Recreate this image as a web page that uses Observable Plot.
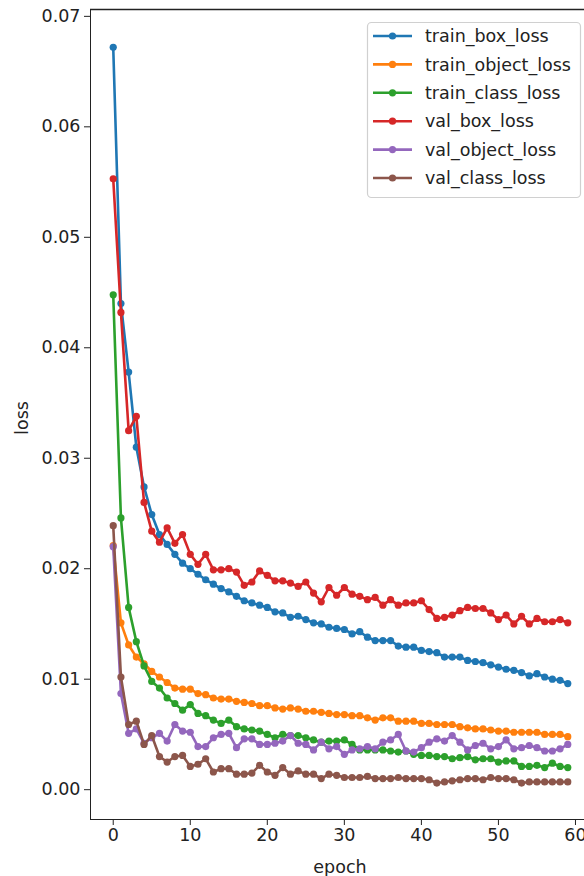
<!DOCTYPE html>
<html><head><meta charset="utf-8">
<script src="https://cdn.jsdelivr.net/npm/d3@7"></script>
<script src="https://cdn.jsdelivr.net/npm/@observablehq/plot@0.6"></script>
<style>body{margin:0;background:#fff} svg{display:block}</style>
</head><body><div id="chart"></div>
<script>
const seriesNames = ["train_box_loss","train_object_loss","train_class_loss","val_box_loss","val_object_loss","val_class_loss"];
const seriesColors = ["#1f77b4","#ff7f0e","#2ca02c","#d62728","#9467bd","#8c564b"];
const xTicks = [0,10,20,30,40,50,60];
const yTicks = [0,0.01,0.02,0.03,0.04,0.05,0.06,0.07];

const trainBox = [
0.0672,0.0440,0.0378,0.0310,0.0274,0.0249,0.0231,0.0222,0.0213,0.0205,
0.0200,0.0195,0.0190,0.0186,0.0182,0.0179,0.0175,0.0171,0.0169,0.0167,
0.0165,0.0161,0.0160,0.0156,0.0157,0.0154,0.0151,0.0150,0.0147,0.0146,
0.0145,0.0141,0.0143,0.0138,0.0135,0.0135,0.0135,0.0130,0.0129,0.0129,
0.0126,0.0125,0.0124,0.0120,0.0120,0.0120,0.0117,0.0116,0.0115,0.0113,
0.0111,0.0109,0.0108,0.0106,0.0103,0.0105,0.0102,0.0100,0.0099,0.0096];
const trainObject = [
0.0221,0.0151,0.0131,0.0120,0.0114,0.0107,0.0102,0.0097,0.0092,0.0091,
0.0091,0.0087,0.0086,0.0083,0.0082,0.0082,0.0080,0.0079,0.0078,0.0076,
0.0076,0.0074,0.0073,0.0074,0.0073,0.0071,0.0071,0.0070,0.0069,0.0068,
0.0068,0.0067,0.0067,0.0065,0.0063,0.0065,0.0065,0.0062,0.0062,0.0062,
0.0060,0.0060,0.0059,0.0059,0.0059,0.0057,0.0056,0.0055,0.0055,0.0054,
0.0053,0.0053,0.0052,0.0052,0.0052,0.0052,0.0050,0.0050,0.0050,0.0048];
const trainClass = [
0.0448,0.0246,0.0165,0.0134,0.0112,0.0098,0.0092,0.0083,0.0078,0.0072,
0.0077,0.0069,0.0067,0.0063,0.0060,0.0063,0.0057,0.0055,0.0054,0.0053,
0.0050,0.0047,0.0050,0.0049,0.0049,0.0047,0.0045,0.0043,0.0044,0.0044,
0.0045,0.0041,0.0036,0.0036,0.0036,0.0036,0.0035,0.0034,0.0035,0.0032,
0.0031,0.0031,0.0030,0.0030,0.0028,0.0029,0.0030,0.0027,0.0028,0.0028,
0.0025,0.0026,0.0026,0.0021,0.0021,0.0022,0.0020,0.0024,0.0021,0.0020];
const valBox = [
0.0553,0.0432,0.0325,0.0338,0.0260,0.0234,0.0224,0.0237,0.0223,0.0231,
0.0213,0.0204,0.0213,0.0199,0.0199,0.0200,0.0197,0.0185,0.0188,0.0198,
0.0194,0.0189,0.0189,0.0187,0.0184,0.0188,0.0178,0.0170,0.0183,0.0176,
0.0183,0.0177,0.0175,0.0172,0.0174,0.0167,0.0172,0.0167,0.0169,0.0169,
0.0171,0.0163,0.0155,0.0156,0.0158,0.0162,0.0165,0.0164,0.0164,0.0160,
0.0154,0.0158,0.0150,0.0157,0.0150,0.0155,0.0152,0.0152,0.0154,0.0151];
const valObject = [
0.0220,0.0087,0.0051,0.0055,0.0042,0.0047,0.0051,0.0044,0.0059,0.0053,
0.0052,0.0039,0.0039,0.0047,0.0050,0.0051,0.0038,0.0046,0.0046,0.0041,
0.0041,0.0042,0.0044,0.0049,0.0042,0.0041,0.0036,0.0043,0.0037,0.0039,
0.0032,0.0036,0.0037,0.0039,0.0037,0.0043,0.0045,0.0050,0.0035,0.0034,
0.0038,0.0043,0.0046,0.0044,0.0049,0.0043,0.0036,0.0040,0.0042,0.0037,
0.0039,0.0045,0.0037,0.0038,0.0040,0.0038,0.0035,0.0035,0.0037,0.0041];
const valClass = [
0.0239,0.0102,0.0059,0.0062,0.0041,0.0049,0.0030,0.0025,0.0030,0.0031,
0.0021,0.0023,0.0028,0.0016,0.0019,0.0019,0.0014,0.0014,0.0015,0.0022,
0.0016,0.0013,0.0020,0.0014,0.0017,0.0014,0.0014,0.0010,0.0014,0.0013,
0.0011,0.0011,0.0011,0.0012,0.0010,0.0010,0.0010,0.0011,0.0010,0.0010,
0.0010,0.0009,0.0006,0.0007,0.0008,0.0009,0.0010,0.0010,0.0009,0.0011,
0.0010,0.0010,0.0009,0.0006,0.0007,0.0007,0.0007,0.0007,0.0007,0.0007];

const seriesValues = [trainBox, trainObject, trainClass, valBox, valObject, valClass];
const series = seriesNames.map((name, i) => ({
  name, color: seriesColors[i],
  rows: seriesValues[i].map((v, epoch) => ({epoch, loss: v, name}))
}));

const W = 584, H = 876;
const yDomain = [-0.00270, 0.07062];
const xDomain = [-2.95, 61.95];
const FONT = "DejaVu Sans, Liberation Sans, sans-serif";
const INK = "#222";

const marks = [];
for (const s of series) {
  marks.push(Plot.line(s.rows, {x: "epoch", y: "loss", stroke: s.color, strokeWidth: 2.6}));
  marks.push(Plot.dot(s.rows, {x: "epoch", y: "loss", fill: s.color, r: 3.6}));
}
marks.push(Plot.ruleY([yDomain[1]], {stroke: INK, strokeWidth: 1.3}));

const chart = Plot.plot({
  width: W, height: H,
  marginLeft: 90, marginRight: 0, marginTop: 9, marginBottom: 57,
  style: {fontFamily: FONT, fontSize: "17.5px", color: INK, background: "#fff", overflow: "hidden"},
  x: {domain: xDomain, range: [90, 590], ticks: xTicks, tickFormat: d3.format("d"), tickSize: 6, tickPadding: 3, label: null, line: true},
  y: {domain: yDomain, ticks: yTicks, tickFormat: d3.format(".2f"), tickSize: 6, tickPadding: 4, label: null, line: true},
  marks
});
document.getElementById("chart").appendChild(chart);

const svg = d3.select(chart);
svg.selectAll("[aria-label='x-axis line'], [aria-label='y-axis line']").attr("stroke-width", 1.3);
// axis titles
svg.append("text").attr("x", 340).attr("y", 873).attr("text-anchor", "middle")
  .attr("font-family", FONT).attr("font-size", "17.5px").attr("fill", INK).text("epoch");
svg.append("text").attr("transform", "translate(28,418) rotate(-90)").attr("text-anchor", "middle")
  .attr("font-family", FONT).attr("font-size", "17.5px").attr("fill", INK).text("loss");

// legend
const lg = svg.append("g").attr("text-anchor", "start");
lg.append("rect").attr("x", 367.5).attr("y", 22.5).attr("width", 213).attr("height", 175)
  .attr("rx", 4).attr("fill", "#fff").attr("fill-opacity", 0.85).attr("stroke", "#d0d0d0").attr("stroke-width", 1.2);
series.forEach((s, i) => {
  const cy = 36 + i * 28.4;
  lg.append("line").attr("x1", 373).attr("x2", 412).attr("y1", cy).attr("y2", cy)
    .attr("stroke", s.color).attr("stroke-width", 2.6);
  lg.append("circle").attr("cx", 392.5).attr("cy", cy).attr("r", 3.6).attr("fill", s.color);
  lg.append("text").attr("x", 425).attr("y", cy).attr("dy", "0.35em").attr("text-anchor", "start")
    .attr("font-family", FONT).attr("font-size", "17.5px").attr("fill", INK).text(s.name);
});
</script></body></html>
